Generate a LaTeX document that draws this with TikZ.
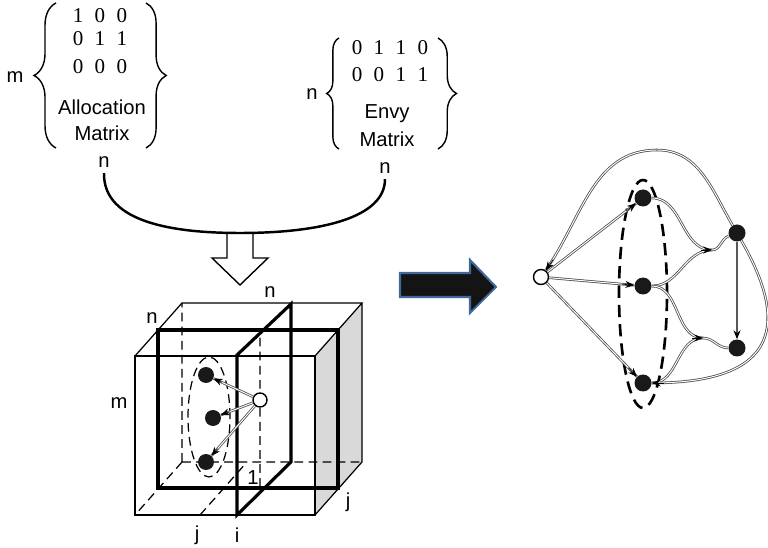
\documentclass[tikz,border=0pt]{standalone}
\usepackage{fontspec}
\setmainfont{Liberation Sans}
\newfontfamily\numfont{Liberation Serif}
\usetikzlibrary{arrows.meta,decorations.pathreplacing,calc}

\begin{document}
\begin{tikzpicture}[x=0.02cm, y=0.02cm,
    lbl/.style={font=\fontsize{11.5}{13}\selectfont, inner sep=0pt},
    row/.style={font=\numfont\fontsize{12}{14}\selectfont, inner sep=0pt},
    brc/.style={decorate, decoration={brace, amplitude=#1}, line width=0.8pt},
    thin/.style={line width=0.7pt},
    thk/.style={line width=1.8pt},
    hid/.style={line width=0.7pt, dash pattern=on 5pt off 3pt},
    dot/.style={circle, fill=black!90, inner sep=0pt, minimum size=#1},
    dot/.default=0.34cm,
    hole/.style={circle, draw, fill=white, line width=0.8pt, inner sep=0pt, minimum size=0.3cm},
    edge/.style={draw=black!70, double=white, double distance=0.55pt, line width=0.45pt},
    tipline/.style={black, line width=0.4pt, -{Stealth[length=5pt, width=4pt]}}
]
\useasboundingbox (0,0) rectangle (768,548);

% allocation matrix
\node[row] (a1) at (100,532) {1\hspace{6.5pt}0\hspace{6.5pt}0};
\node[row] (a2) at (100,509) {0\hspace{6.5pt}1\hspace{6.5pt}1};
\node[row] (a3) at (100,481) {0\hspace{6.5pt}0\hspace{6.5pt}0};
\node[lbl] (alab) at (102,441) {Allocation};
\node[lbl] (alab2) at (102,415) {Matrix};
\node[lbl] (am) at (15,471) {m};
\node[lbl] (an) at (104,386) {n};
\draw[brc=12.5pt] (56,400) -- (56,545);
\draw[brc=11.5pt] (146,545) -- (146,400);

% envy matrix
\node[row] (e1) at (390,500) {0\hspace{6.5pt}1\hspace{6.5pt}1\hspace{6.5pt}0};
\node[row] (e2) at (390,473) {0\hspace{6.5pt}0\hspace{6.5pt}1\hspace{6.5pt}1};
\node[lbl] (elab) at (387,434) {Envy};
\node[lbl] (elab2) at (387,409) {Matrix};
\node[lbl] (en1) at (312,454) {n};
\node[lbl] (en) at (385,380) {n};
\draw[brc=7pt] (339,399) -- (339,510);
\draw[brc=10.5pt] (438,510) -- (438,399);

% join and hollow arrow
\coordinate (join) at (240,315);
\draw[line width=1.4pt] ([yshift=-3pt]an.south) .. controls (103,325) and (175,315) .. (join)
    .. controls (320,315) and (385,330) .. ([yshift=-3pt]en.south);
\draw[line width=0.8pt] (227,315) -- (227,290) -- (212,290) -- (240,263) -- (268,290) -- (253,290) -- (253,315);

% cube
\fill[black!15] (315,33) -- (362,86) -- (362,245) -- (315,192) -- cycle;
\draw[hid] (182,86) -- (182,245) (182,86) -- (362,86) (182,86) -- (135,33)
    (200,33) -- (247,86) (260,61) -- (260,218);
\draw[thin] (135,33) rectangle (315,192);
\draw[thin] (135,192) -- (182,245) -- (362,245) -- (315,192) (362,245) -- (362,86) -- (315,33);
\draw[thk] (158,60) rectangle (338,218);
\draw[thk] (237,33) -- (237,193) -- (291,244) -- (291,86) -- cycle;
\node[lbl] (cn1) at (152,230) {n};
\node[lbl] (cn2) at (270,256) {n};
\node[lbl] (cm) at (119,145) {m};
\node[lbl] (cj1) at (197,13) {j};
\node[lbl] (ci) at (237,13) {i};
\node[lbl] (cj2) at (348,46) {j};
\node[lbl] (c1lab) at (253,70) {1};
\draw[hid] (209,131) ellipse [x radius=21, y radius=60];
\node[dot=0.32cm] (c1) at (206,173) {};
\node[dot=0.32cm] (c2) at (213,130) {};
\node[dot=0.32cm] (c3) at (206,86) {};
\node[hole, minimum size=0.28cm] (co) at (260,148) {};
\foreach \t in {c1,c2,c3}{
  \draw[edge] (co) -- (\t);
  \draw[tipline] ($(\t)!10pt!(co)$) -- (\t);
}

% big arrow
\draw[fill=black!92, draw={rgb,255:red,65;green,104;blue,154}, line width=1.2pt]
  (400,275) -- (470,275) -- (470,288) -- (496,261) -- (470,235) -- (470,251) -- (400,251) -- cycle;

% graph
\draw[line width=1.5pt, dash pattern=on 7pt off 4pt] (643,254) ellipse [x radius=24, y radius=114];
\node[hole] (go) at (541,271) {};
\node[dot] (ga) at (643,350) {};
\node[dot] (gb) at (643,262) {};
\node[dot] (gc) at (643,165) {};
\node[dot] (gd) at (737,315) {};
\node[dot] (ge) at (737,200) {};
\coordinate (md) at (712,298);
\coordinate (me) at (703,210);
\coordinate (top) at (657,398);

\foreach \t in {ga,gb,gc}{
  \draw[edge] (go) -- (\t);
  \draw[tipline] ($(\t)!12pt!(go)$) -- (\t);
}
\draw[edge] (gd) to[out=120, in=0] (top) to[out=180, in=55] (go);
\draw[tipline] ($(go)+(55:12pt)$) -- (go);
\draw[edge] (ga) to[out=0, in=180] (md);
\draw[edge] (gb) to[out=0, in=180] (md);
\draw[tipline] ([xshift=-6pt]md) -- (md);
\draw[edge] (md) to[out=0, in=200] (gd);
\draw[edge] (gb) to[out=0, in=180] (me);
\draw[edge] (gc) to[out=0, in=180] (me);
\draw[tipline] ([xshift=-6pt]me) -- (me);
\draw[edge] (me) to[out=0, in=180] (ge);
\draw[black!65, line width=0.9pt, -{Stealth[length=5pt, width=4pt, black]}] (gd) -- (ge);
\draw[edge] (gd) .. controls (780,240) and (795,165) .. (gc);
\draw[tipline] ($(gc)!12pt!(795,165)$) -- (gc);
\end{tikzpicture}
\end{document}
